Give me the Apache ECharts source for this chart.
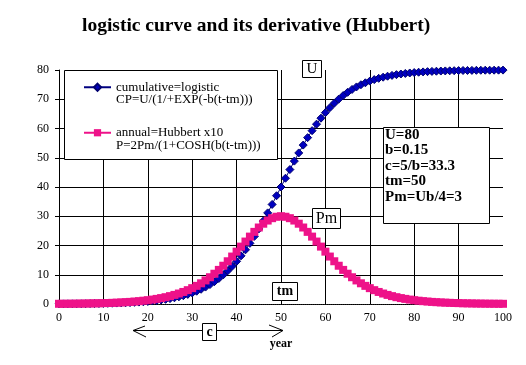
<!DOCTYPE html>
<html>
<head>
<meta charset="utf-8">
<script src="https://cdn.jsdelivr.net/npm/echarts@6.0.0/dist/echarts.min.js"></script>
<style>html,body{margin:0;padding:0;background:#fff;}#c{width:526px;height:365px;}</style>
</head>
<body>
<div id="c"></div>
<script>
var years = [0,1,2,3,4,5,6,7,8,9,10,11,12,13,14,15,16,17,18,19,20,21,22,23,24,25,26,27,28,29,30,31,32,33,34,35,36,37,38,39,40,41,42,43,44,45,46,47,48,49,50,51,52,53,54,55,56,57,58,59,60,61,62,63,64,65,66,67,68,69,70,71,72,73,74,75,76,77,78,79,80,81,82,83,84,85,86,87,88,89,90,91,92,93,94,95,96,97,98,99,100];
var cumulative = [0.04,0.05,0.06,0.07,0.08,0.09,0.11,0.13,0.15,0.17,
0.20,0.23,0.27,0.31,0.36,0.42,0.48,0.56,0.65,0.76,
0.88,1.02,1.18,1.37,1.59,1.84,2.13,2.46,2.85,3.29,
3.79,4.37,5.04,5.79,6.65,7.63,8.73,9.96,11.35,12.89,
14.59,16.47,18.52,20.74,23.12,25.67,28.35,31.15,34.04,37.01,
40,
42.99,45.96,48.85,51.65,54.33,56.88,59.26,61.48,63.53,65.41,
67.11,68.65,70.04,71.27,72.37,73.35,74.21,74.96,75.63,76.21,
76.71,77.15,77.54,77.87,78.16,78.41,78.63,78.82,78.98,79.12,
79.24,79.35,79.44,79.52,79.58,79.64,79.69,79.73,79.77,79.80,
79.83,79.85,79.87,79.89,79.91,79.92,79.93,79.94,79.95,79.96];
var annual = [0.07,0.08,0.09,0.10,0.12,0.14,0.16,0.19,0.22,0.25,
0.30,0.34,0.40,0.46,0.54,0.62,0.72,0.84,0.97,1.13,
1.30,1.51,1.75,2.02,2.33,2.69,3.11,3.58,4.12,4.73,
5.42,6.20,7.08,8.06,9.15,10.35,11.66,13.08,14.61,16.22,
17.90,19.62,21.35,23.04,24.66,26.15,27.45,28.53,29.34,29.83,
30,
29.83,29.34,28.53,27.45,26.15,24.66,23.04,21.35,19.62,17.90,
16.22,14.61,13.08,11.66,10.35,9.15,8.06,7.08,6.20,5.42,
4.73,4.12,3.58,3.11,2.69,2.33,2.02,1.75,1.51,1.30,
1.13,0.97,0.84,0.72,0.62,0.54,0.46,0.40,0.34,0.30,
0.25,0.22,0.19,0.16,0.14,0.12,0.10,0.09,0.08,0.07];
var seriesNames = ['cumulative', 'annual'];
var legendLines = {
  cumulative: ['cumulative=logistic', 'CP=U/(1/+EXP(-b(t-tm)))'],
  annual: ['annual=Hubbert x10', 'P=2Pm/(1+COSH(b(t-tm)))']
};
var paramLines = ['U=80', 'b=0.15', 'c=5/b=33.3', 'tm=50', 'Pm=Ub/4=3'];
var titleText = 'logistic curve and its derivative (Hubbert)';
var xTickMax = 100, yTickMax = 80;

var serif = 'Liberation Serif, Times New Roman, serif';
var chart = echarts.init(document.getElementById('c'), null, {renderer: 'canvas'});

function pairs(vals) { return years.map(function (t, i) { return [t, vals[i]]; }); }

var option = {
  animation: false,
  backgroundColor: '#fff',
  title: {
    text: titleText, left: 82, top: 16, padding: 0,
    textStyle: {fontFamily: serif, fontSize: 19.5, fontWeight: 'bold', color: '#000'}
  },
  grid: {left: 59, right: 23, top: 70, bottom: 61, containLabel: false, outerBoundsMode: 'none'},
  legend: {
    data: seriesNames, orient: 'vertical', left: 83, top: 68.25, padding: 0,
    itemGap: 7.5, itemWidth: 27, itemHeight: 9, selectedMode: false, z: 10,
    formatter: function (name) {
      var l = legendLines[name];
      return '{e| }\n{t|' + l[0] + '}\n{t|' + l[1] + '}';
    },
    textStyle: {
      color: '#000', fontFamily: serif, fontSize: 13,
      rich: {
        e: {lineHeight: 12.5, fontSize: 13, fontFamily: serif},
        t: {lineHeight: 12.5, fontSize: 13, fontFamily: serif, color: '#000'}
      }
    }
  },
  xAxis: [{
    type: 'value', min: 0, max: xTickMax, interval: 10, position: 'bottom',
    name: 'year', nameLocation: 'middle', nameGap: 34,
    nameTextStyle: {fontFamily: serif, fontSize: 12, fontWeight: 'bold', color: '#000'},
    axisLine: {show: true, lineStyle: {color: '#000', type: 'dotted', width: 1}},
    axisTick: {show: false},
    axisLabel: {color: '#000', fontFamily: serif, fontSize: 12, margin: 8},
    splitLine: {show: true, showMinLine: false, showMaxLine: false, lineStyle: {color: '#000', width: 1, type: 'solid'}}
  }, {
    type: 'value', min: 0, max: xTickMax, position: 'top',
    axisLine: {show: true, lineStyle: {color: '#000', type: 'dotted', width: 1}},
    axisTick: {show: false}, axisLabel: {show: false}, splitLine: {show: false}
  }],
  yAxis: [{
    type: 'value', min: 0, max: yTickMax, interval: 10, position: 'left',
    axisLine: {show: true, lineStyle: {color: '#000', width: 1}},
    axisTick: {show: true, length: 4, inside: false, lineStyle: {color: '#000'}},
    axisLabel: {color: '#000', fontFamily: serif, fontSize: 12, margin: 10},
    splitLine: {show: true, showMinLine: false, showMaxLine: false, lineStyle: {color: '#000', width: 1, type: 'solid'}}
  }, {
    type: 'value', min: 0, max: yTickMax, position: 'right',
    axisLine: {show: true, lineStyle: {color: '#000', type: 'dotted', width: 1}},
    axisTick: {show: false}, axisLabel: {show: false}, splitLine: {show: false}
  }],
  series: [{
    name: 'cumulative', type: 'line', data: pairs(cumulative),
    symbol: 'diamond', symbolSize: 8, showAllSymbol: true, z: 2,
    lineStyle: {color: '#000080', width: 1},
    itemStyle: {color: '#0000C0', borderColor: '#000070', borderWidth: 1}
  }, {
    name: 'annual', type: 'line', data: pairs(annual),
    symbol: 'rect', symbolSize: 8, showAllSymbol: true, z: 3,
    lineStyle: {color: '#EE1289', width: 1},
    itemStyle: {color: '#EE1289', borderWidth: 0}
  }],
  graphic: [
    {type: 'rect', z: 5, shape: {x: 64.5, y: 70.5, width: 213, height: 89}, style: {fill: '#fff', stroke: '#000', lineWidth: 1}},
    {type: 'rect', z: 5, shape: {x: 383.5, y: 127.5, width: 106, height: 96}, style: {fill: '#fff', stroke: '#000', lineWidth: 1}},
    {type: 'text', z: 6, x: 385, y: 127, style: {text: paramLines.join('\n'), fontFamily: serif, fontSize: 15, fontWeight: 'bold', lineHeight: 15.5, fill: '#000', verticalAlign: 'top', align: 'left'}},
    {type: 'rect', z: 5, shape: {x: 302.5, y: 60.5, width: 19, height: 17}, style: {fill: '#fff', stroke: '#000', lineWidth: 1}},
    {type: 'text', z: 6, x: 312, y: 69.5, style: {text: 'U', fontFamily: serif, fontSize: 15, fill: '#000', align: 'center', verticalAlign: 'middle'}},
    {type: 'rect', z: 5, shape: {x: 312.5, y: 208.5, width: 28, height: 20}, style: {fill: '#fff', stroke: '#000', lineWidth: 1}},
    {type: 'text', z: 6, x: 326.5, y: 218.5, style: {text: 'Pm', fontFamily: serif, fontSize: 16, fill: '#000', align: 'center', verticalAlign: 'middle'}},
    {type: 'rect', z: 5, shape: {x: 272.5, y: 282.5, width: 25, height: 18}, style: {fill: '#fff', stroke: '#000', lineWidth: 1}},
    {type: 'text', z: 6, x: 285, y: 291.5, style: {text: 'tm', fontFamily: serif, fontSize: 14, fontWeight: 'bold', fill: '#000', align: 'center', verticalAlign: 'middle'}},
    {type: 'polyline', z: 4, shape: {points: [[145, 326], [133, 330.5], [146, 337]]}, style: {stroke: '#000', lineWidth: 1, fill: null}},
    {type: 'line', z: 4, shape: {x1: 133, y1: 330.5, x2: 283, y2: 330.5}, style: {stroke: '#000', lineWidth: 1}},
    {type: 'polyline', z: 4, shape: {points: [[269, 325], [283, 330.5], [272, 337]]}, style: {stroke: '#000', lineWidth: 1, fill: null}},
    {type: 'rect', z: 5, shape: {x: 202.5, y: 323.5, width: 14, height: 17}, style: {fill: '#fff', stroke: '#000', lineWidth: 1}},
    {type: 'text', z: 6, x: 209.5, y: 332, style: {text: 'c', fontFamily: serif, fontSize: 14, fontWeight: 'bold', fill: '#000', align: 'center', verticalAlign: 'middle'}}
  ]
};
chart.setOption(option);
</script>
</body>
</html>
